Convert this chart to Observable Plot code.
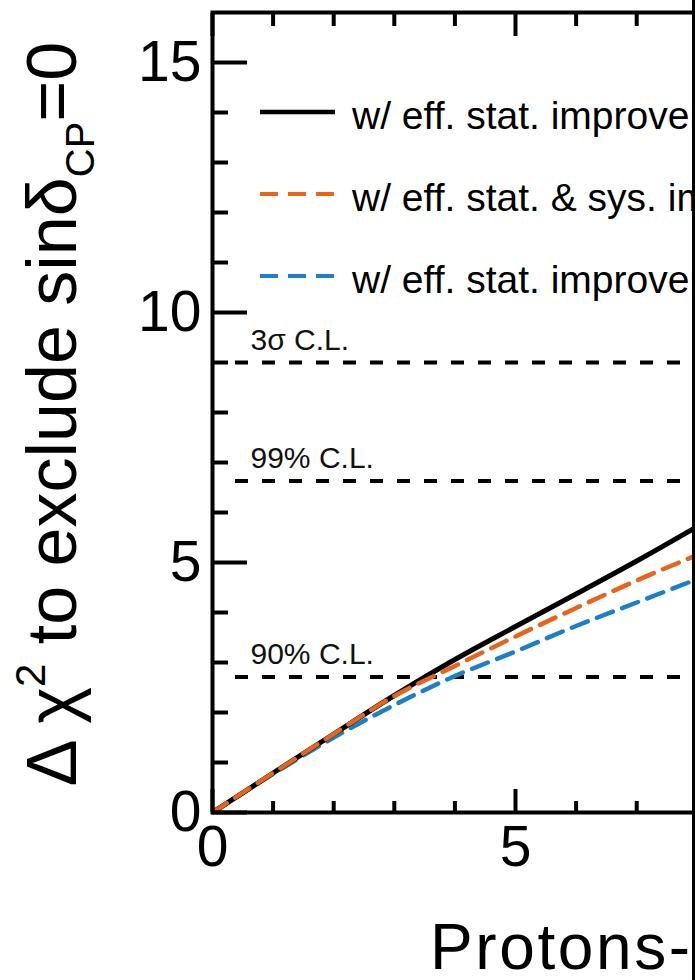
<!DOCTYPE html>
<html><head><meta charset="utf-8">
<script src="https://cdn.jsdelivr.net/npm/d3@7"></script>
<script src="https://cdn.jsdelivr.net/npm/@observablehq/plot@0.6"></script>
<style>
html,body{margin:0;padding:0;background:#fff;overflow:hidden;}
#wrap{position:relative;width:695px;height:980px;overflow:hidden;background:#fff;}
#chart{position:absolute;left:0;top:0;width:830px;height:980px;}
#chart svg{max-width:none !important;}
#edge{position:absolute;left:692px;top:0;width:3px;height:980px;background:#000;}
</style></head>
<body><div id="wrap"><div id="chart"></div><div id="edge"></div></div>
<script>
// ---- data ----
const potX        = [0, 1, 2, 3, 4, 5, 6, 7, 8];
const chiStat     = [0, 0.79, 1.57, 2.34, 3.06, 3.72, 4.37, 5.03, 5.72];
const chiStatSys  = [0, 0.79, 1.57, 2.33, 2.93, 3.52, 4.09, 4.64, 5.15];
const chiStatB    = [0, 0.77, 1.50, 2.15, 2.73, 3.22, 3.73, 4.20, 4.67];
const legendLabels = ["w/ eff. stat. improvement", "w/ eff. stat. & sys. improvement", "w/ eff. stat. improvement"];
const seriesColors = ["#000000", "#e8641a", "#1c80c8"];
const clValues = [2.71, 6.63, 9.0];
const clLabels = ["90% C.L.", "99% C.L.", "3σ C.L."];
const xTicksMajor = [0, 5];
const xTicksMinor = [1, 2, 3, 4, 6, 7, 8, 9];
const yTicksMajor = [0, 5, 10, 15];
const yTicksMinor = [1, 2, 3, 4, 6, 7, 8, 9, 11, 12, 13, 14];
const xTitle = "Protons-on-target";

const rowsA = potX.map((x, i) => ({x, v: chiStat[i]}));
const rowsS = potX.map((x, i) => ({x, v: chiStatSys[i]}));
const rowsB = potX.map((x, i) => ({x, v: chiStatB[i]}));
const clRows = clValues.map((value, i) => ({value, label: clLabels[i]}));

const fs = "'Liberation Sans', Arial, Helvetica, sans-serif";

const chart = Plot.plot({
  width: 830, height: 980,
  marginLeft: 212, marginRight: 12, marginTop: 12, marginBottom: 168,
  x: {domain: [0, 10]},
  y: {domain: [0, 16]},
  style: {fontFamily: fs, color: "black", background: "white", maxWidth: "none"},
  marks: [
    Plot.ruleY(clRows, {y: "value", stroke: "black", strokeWidth: 4, strokeDasharray: "13,14", dx: 23, clip: true}),
    Plot.text(clRows, {y: "value", text: "label", frameAnchor: "left", dx: 38, dy: -13, textAnchor: "start", lineAnchor: "bottom", fontSize: 30, fill: "#111", style: "letter-spacing:1.2px"}),
    Plot.line(rowsB, {x: "x", y: "v", stroke: seriesColors[2], strokeWidth: 4.5, strokeDasharray: "17,10", curve: "monotone-x", clip: true}),
    Plot.line(rowsA, {x: "x", y: "v", stroke: seriesColors[0], strokeWidth: 5, curve: "monotone-x", clip: true}),
    Plot.line(rowsS, {x: "x", y: "v", stroke: seriesColors[1], strokeWidth: 4.5, strokeDasharray: "17,10", curve: "monotone-x", clip: true}),
    Plot.frame({stroke: "black", strokeWidth: 4}),
    Plot.axisY({ticks: yTicksMajor, anchor: "left", tickSize: -35, tickPadding: 46, strokeWidth: 4, fontSize: 57, label: null}),
    Plot.axisY({ticks: yTicksMinor, anchor: "left", tickSize: -16, strokeWidth: 4, fill: "none", label: null}),
    Plot.axisX({ticks: xTicksMajor, anchor: "bottom", tickSize: -23, tickPadding: 36, strokeWidth: 4, fontSize: 57, label: null}),
    Plot.axisX({ticks: xTicksMinor, anchor: "bottom", tickSize: -11, strokeWidth: 4, fill: "none", label: null}),
    Plot.axisX({ticks: xTicksMajor, anchor: "top", tickSize: -23, strokeWidth: 4, fill: "none", label: null}),
    Plot.axisX({ticks: xTicksMinor, anchor: "top", tickSize: -13, strokeWidth: 4, fill: "none", label: null})
  ]
});
chart.style.maxWidth = "none";
chart.style.width = "830px";
chart.style.height = "980px";
document.getElementById("chart").appendChild(chart);

const svg = d3.select(chart);

// legend
const legTop = 112, legStep = 82, legX1 = 260, legX2 = 335, legTextX = 352;
const legDash = [null, "18,10", "18,10"];
const leg = svg.append("g").attr("font-family", fs).attr("font-size", 39).attr("text-anchor", "start");
legendLabels.forEach((lab, i) => {
  const y = legTop + i * legStep;
  leg.append("line").attr("x1", legX1).attr("x2", legX2).attr("y1", y).attr("y2", y)
    .attr("stroke", seriesColors[i]).attr("stroke-width", i === 0 ? 4.5 : 4)
    .attr("stroke-dasharray", legDash[i]);
  leg.append("text").attr("x", legTextX).attr("y", y + 17).attr("fill", "black").text(lab);
});

// y title
const yt = svg.append("text")
  .attr("transform", "translate(76,414) rotate(-90)")
  .attr("text-anchor", "middle").attr("font-family", fs).attr("font-size", 70).attr("fill", "black");
yt.append("tspan").text("Δ χ");
yt.append("tspan").attr("font-size", 42).attr("dy", -31).text("2");
yt.append("tspan").attr("dy", 31).text(" to exclude sinδ");
yt.append("tspan").attr("font-size", 40).attr("dy", 18).text("CP");
yt.append("tspan").attr("dy", -18).text("=0");

// x title
svg.append("text").attr("x", 430).attr("y", 969).attr("font-family", fs).attr("font-size", 64)
  .attr("text-anchor", "start").attr("fill", "black").style("letter-spacing", "2.6px").text(xTitle);
</script>
</body></html>
